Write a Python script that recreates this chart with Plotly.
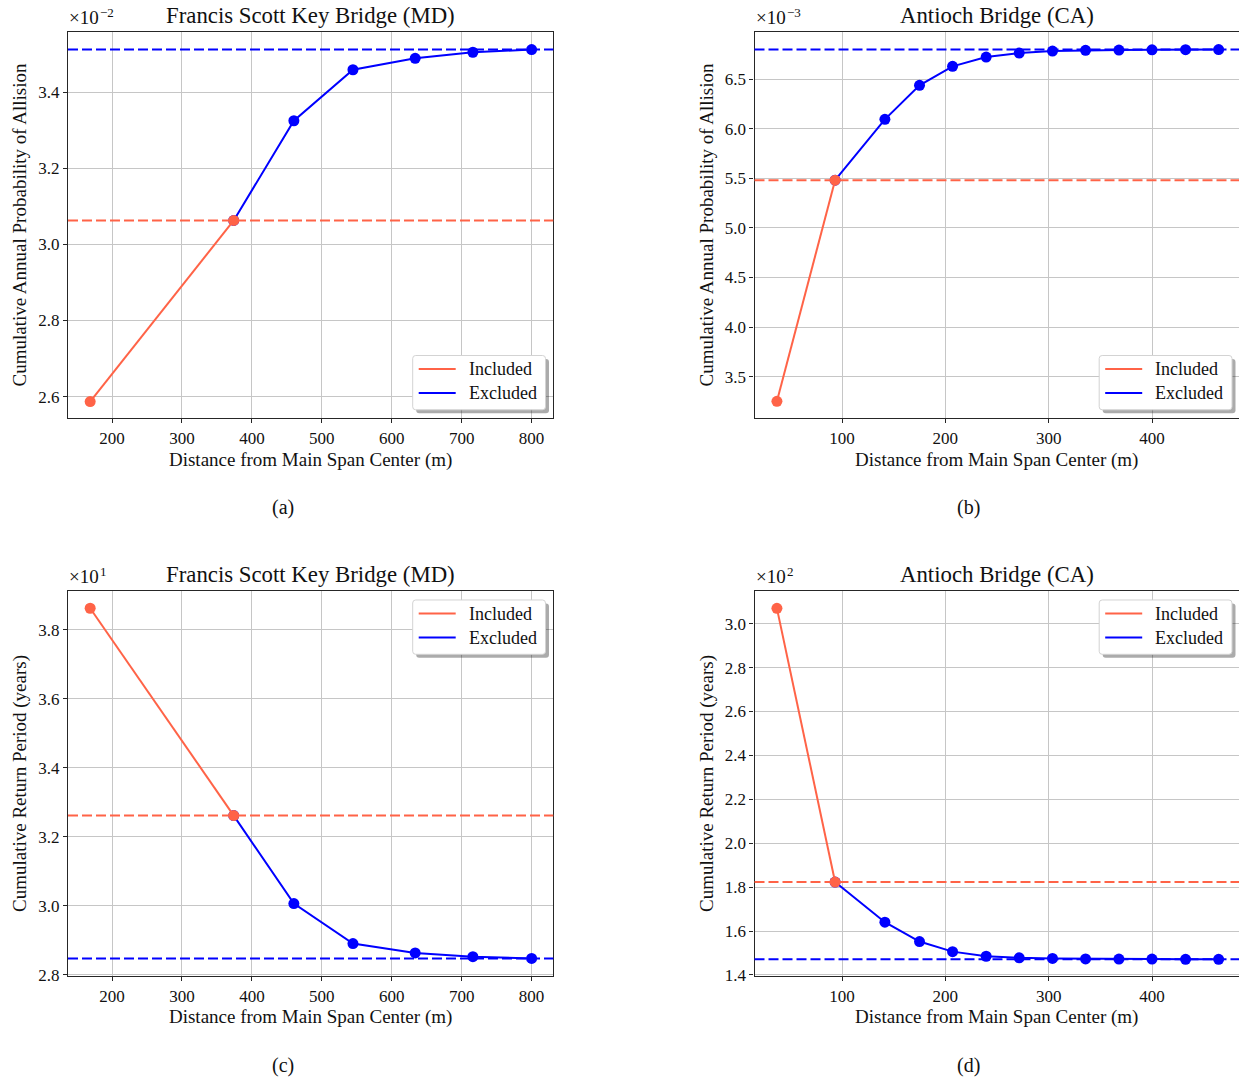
import plotly.graph_objects as go

# ---------------- data ----------------
x_fsk = [168.7, 374.0, 460.0, 544.5, 633.5, 716.0, 800.0]
prob_fsk = [2.587, 3.063, 3.325, 3.459, 3.489, 3.505, 3.512]      # x 1e-2
rp_fsk = [3.862, 3.261, 3.006, 2.890, 2.863, 2.852, 2.847]        # x 1e1

x_ant = [37.0, 93.3, 141.5, 175.0, 207.0, 239.5, 271.5, 303.7, 335.7, 368.0, 400.0, 432.5, 464.5]
prob_ant = [3.251, 5.480, 6.094, 6.437, 6.628, 6.721, 6.762, 6.782, 6.789, 6.792, 6.794, 6.796, 6.797]  # x 1e-3
rp_ant = [3.070, 1.823, 1.640, 1.552, 1.506, 1.485, 1.478, 1.475, 1.473, 1.472, 1.472, 1.471, 1.471]    # x 1e2

exp_labels = ["−2", "−3", "1", "2"]
titles = ["Francis Scott Key Bridge (MD)", "Antioch Bridge (CA)",
          "Francis Scott Key Bridge (MD)", "Antioch Bridge (CA)"]
ylabels = ["Cumulative Annual Probability of Allision", "Cumulative Annual Probability of Allision",
           "Cumulative Return Period (years)", "Cumulative Return Period (years)"]
xlabel = "Distance from Main Span Center (m)"
captions = ["(a)", "(b)", "(c)", "(d)"]
legend_names = ["Included", "Excluded"]
xticks_fsk = [200, 300, 400, 500, 600, 700, 800]
xticks_ant = [100, 200, 300, 400]
yticks = [[2.6, 2.8, 3.0, 3.2, 3.4],
          [3.5, 4.0, 4.5, 5.0, 5.5, 6.0, 6.5],
          [2.8, 3.0, 3.2, 3.4, 3.6, 3.8],
          [1.4, 1.6, 1.8, 2.0, 2.2, 2.4, 2.6, 2.8, 3.0]]
split = 1  # index of last "included" point

# ---------------- style / layout ----------------
W, H = 1239, 1078
RED = "#FF6347"
BLUE = "#0000FF"
FONT = "Liberation Serif"
GRID = "#c6c6c6"
FRAME = "#262626"
TXT = "#111111"


def px(v):
    return v / W


def py(v):
    return 1 - v / H


panels = [
    dict(x=x_fsk, y=prob_fsk, xd=[68, 553.3], yd=[31.7, 418.3], xr=[137, 831], yr=[2.543, 3.559],
         xt=xticks_fsk, leg="bottom"),
    dict(x=x_ant, y=prob_ant, xd=[754.5, 1239], yd=[31.7, 418.3], xr=[15.3, 484.2], yr=[3.08, 6.977],
         xt=xticks_ant, leg="bottom"),
    dict(x=x_fsk, y=rp_fsk, xd=[68, 553.3], yd=[591, 976], xr=[137, 831], yr=[2.796, 3.912],
         xt=xticks_fsk, leg="top"),
    dict(x=x_ant, y=rp_ant, xd=[754.5, 1239], yd=[591, 976], xr=[15.3, 484.2], yr=[1.395, 3.149],
         xt=xticks_ant, leg="top"),
]


def rounded_rect(x0, y0, x1, y1, r):
    """SVG path (paper coords) for a rectangle with rounded corners; inputs in page px."""
    X = lambda v: f"{px(v):.6f}"
    Y = lambda v: f"{py(v):.6f}"
    return (f"M {X(x0 + r)},{Y(y0)} L {X(x1 - r)},{Y(y0)} Q {X(x1)},{Y(y0)} {X(x1)},{Y(y0 + r)} "
            f"L {X(x1)},{Y(y1 - r)} Q {X(x1)},{Y(y1)} {X(x1 - r)},{Y(y1)} "
            f"L {X(x0 + r)},{Y(y1)} Q {X(x0)},{Y(y1)} {X(x0)},{Y(y1 - r)} "
            f"L {X(x0)},{Y(y0 + r)} Q {X(x0)},{Y(y0)} {X(x0 + r)},{Y(y0)} Z")


fig = go.Figure()
annotations = []
shapes = []
layout = {}

for i, p in enumerate(panels):
    n = i + 1
    xa = "x" if n == 1 else f"x{n}"
    ya = "y" if n == 1 else f"y{n}"
    xs, ys = p["x"], p["y"]

    # excluded (blue) from split point onward
    fig.add_trace(go.Scatter(x=xs[split:], y=ys[split:], mode="lines+markers", xaxis=xa, yaxis=ya,
                             name=legend_names[1], line=dict(color=BLUE, width=2),
                             marker=dict(color=BLUE, size=11), showlegend=False))
    # included (red)
    fig.add_trace(go.Scatter(x=xs[:split + 1], y=ys[:split + 1], mode="lines+markers", xaxis=xa, yaxis=ya,
                             name=legend_names[0], line=dict(color=RED, width=2),
                             marker=dict(color=RED, size=11), showlegend=False))

    # horizontal dashed reference lines
    for val, col in [(ys[split], RED), (ys[-1], BLUE)]:
        shapes.append(dict(type="line", xref=f"{xa} domain", yref=ya, x0=0, x1=1, y0=val, y1=val,
                           line=dict(color=col, width=2, dash="10px,4px"), layer="above"))

    x0, x1 = p["xd"]
    ytop, ybot = p["yd"]
    layout[f"xaxis{'' if n == 1 else n}"] = dict(
        domain=[max(0.0, px(x0)), min(1.0, px(x1))], anchor=ya, range=p["xr"], tickvals=p["xt"],
        showgrid=True, gridcolor=GRID, gridwidth=1.2, zeroline=False, automargin=False,
        showline=True, linecolor=FRAME, linewidth=1.3, mirror=True,
        ticks="outside", ticklen=4, tickcolor=FRAME, tickwidth=1,
        tickfont=dict(family=FONT, size=17, color=TXT),
        title=dict(text=xlabel, font=dict(family=FONT, size=19, color=TXT), standoff=5))
    layout[f"yaxis{'' if n == 1 else n}"] = dict(
        domain=[py(ybot), py(ytop)], anchor=xa, range=p["yr"], tickvals=yticks[i], tickformat=".1f",
        showgrid=True, gridcolor=GRID, gridwidth=1.2, zeroline=False, automargin=False,
        showline=True, linecolor=FRAME, linewidth=1.3, mirror=True,
        ticks="outside", ticklen=4, tickcolor=FRAME, tickwidth=1,
        tickfont=dict(family=FONT, size=17, color=TXT),
        title=dict(text=ylabels[i], font=dict(family=FONT, size=19, color=TXT), standoff=6))

    # title
    annotations.append(dict(text=titles[i], xref="paper", yref="paper", x=px((x0 + min(x1, 1240)) / 2),
                            y=py(ytop - 2), xanchor="center", yanchor="bottom", showarrow=False,
                            font=dict(family=FONT, size=22.8, color=TXT)))
    # offset (scale) text: "×10" plus exponent
    annotations.append(dict(text="×10", xref="paper", yref="paper",
                            x=px(x0), y=py(ytop - 3), xanchor="left", yanchor="bottom", showarrow=False,
                            font=dict(family=FONT, size=19, color=TXT), borderpad=0))
    annotations.append(dict(text=exp_labels[i], xref="paper", yref="paper",
                            x=px(x0 + 31), y=py(ytop - 11), xanchor="left", yanchor="bottom", showarrow=False,
                            font=dict(family=FONT, size=13, color=TXT), borderpad=0))
    # caption
    annotations.append(dict(text=captions[i], xref="paper", yref="paper", x=px(283 if x0 < 400 else 968),
                            y=py(ybot + 89), xanchor="center", yanchor="middle", showarrow=False,
                            font=dict(family=FONT, size=20, color=TXT)))

    # legend (box 133 x 54 px with drop shadow)
    dx = 0 if x0 < 400 else 686.5
    bx0, bx1 = 412.7 + dx, 545.5 + dx
    if p["leg"] == "bottom":
        by0, by1 = 355.5, 409.8
    else:
        by0, by1 = 600, 654.3
    shapes.append(dict(type="path", xref="paper", yref="paper", path=rounded_rect(bx0 + 3.5, by0 + 3.5,
                       bx1 + 3.5, by1 + 3.5, 3), fillcolor="rgba(0,0,0,0.33)", line=dict(width=0),
                       layer="above"))
    shapes.append(dict(type="path", xref="paper", yref="paper", path=rounded_rect(bx0, by0, bx1, by1, 3),
                       fillcolor="white", line=dict(color="#d3d3d3", width=1), layer="above"))
    for k, (name, col) in enumerate(zip(legend_names, [RED, BLUE])):
        ly = by0 + 13.5 + 24 * k
        shapes.append(dict(type="line", xref="paper", yref="paper", x0=px(bx0 + 6), x1=px(bx0 + 43),
                           y0=py(ly), y1=py(ly), line=dict(color=col, width=2), layer="above"))
        annotations.append(dict(text=name, xref="paper", yref="paper", x=px(bx0 + 55), y=py(ly),
                                xanchor="left", yanchor="middle", showarrow=False, borderpad=0,
                                font=dict(family=FONT, size=18, color=TXT)))

fig.update_layout(width=W, height=H, margin=dict(l=0, r=0, t=0, b=0, pad=0, autoexpand=False),
                  autosize=False, paper_bgcolor="white", plot_bgcolor="white",
                  annotations=annotations, shapes=shapes,
                  font=dict(family=FONT), showlegend=False, **layout)

# remove the default 8px page margin so the figure fills the window exactly
fig.write_html("out.html", config={"displayModeBar": False},
               post_script="document.body.style.margin='0px';")
